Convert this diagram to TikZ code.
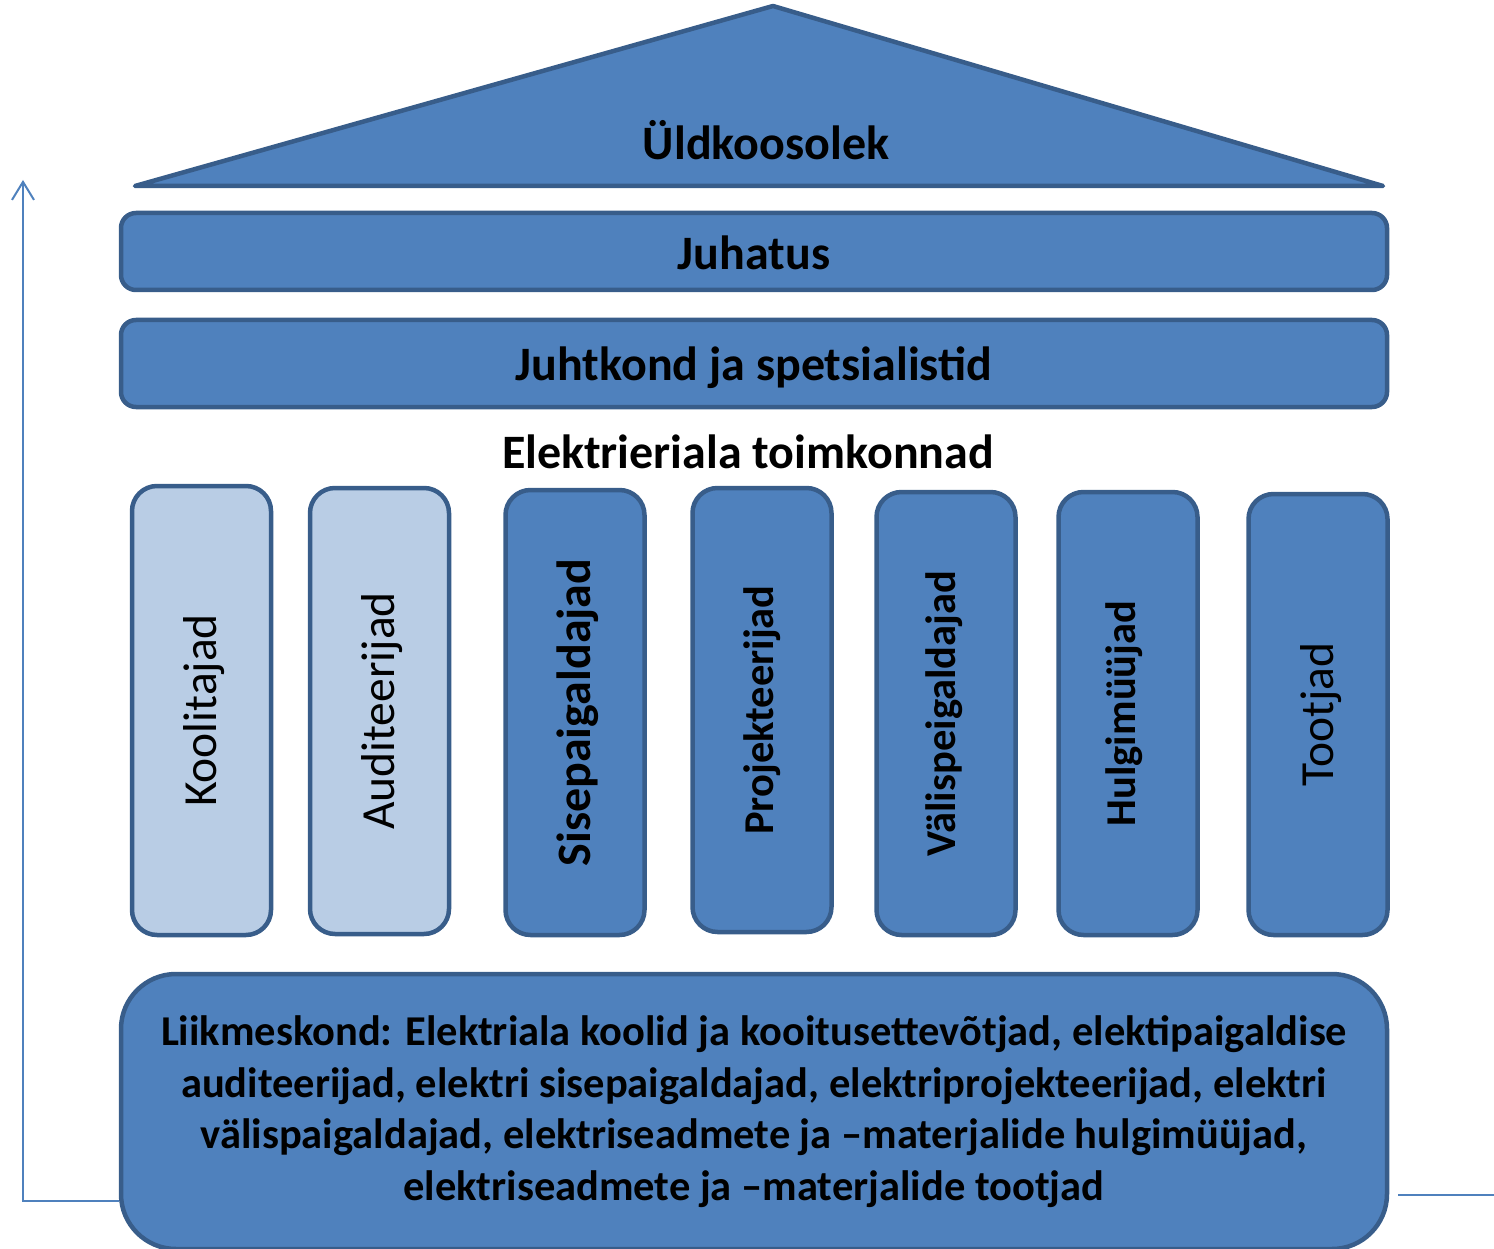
\documentclass[tikz,border=0pt]{standalone}
\usepackage{fontspec}
\setmainfont{Carlito}
\usetikzlibrary{arrows.meta}
\definecolor{mainfill}{HTML}{4F81BD}
\definecolor{mainedge}{HTML}{385D8A}
\definecolor{lightfill}{HTML}{B9CDE5}
\tikzset{
  band/.style={draw=mainedge, fill=mainfill, line width=4.5pt, rounded corners=15pt,
    minimum width=1266pt, inner sep=0pt, text=black, font=\fontsize{48}{58}\selectfont\bfseries},
  pillar/.style={draw=mainedge, fill=mainfill, line width=4.5pt, rounded corners=25pt,
    minimum width=139pt, inner sep=0pt, text=black},
  lightpillar/.style={pillar, fill=lightfill},
  ptext/.style={rotate=90, font=\fontsize{47.5}{56}\selectfont},
  btext/.style={rotate=90, font=\fontsize{48}{56}\selectfont\bfseries},
  stext/.style={rotate=90, font=\fontsize{42.5}{50}\selectfont\bfseries},
  flowline/.style={draw=mainfill, line width=2pt},
}
\begin{document}
\begin{tikzpicture}[x=1pt,y=-1pt]
\useasboundingbox (0,0) rectangle (1494,1249);
% roof
\draw[draw=mainedge, fill=mainfill, line width=4.5pt, line join=round]
  (135,186) -- (773,6) -- (1383,186) -- cycle;
\node[font=\fontsize{48}{58}\selectfont\bfseries] (roof) at (766,140) {Üldkoosolek};
% bands
\node[band, minimum height=77pt] (juhatus) at (754,251.5) {};
\node[font=\fontsize{48}{58}\selectfont\bfseries] at ([yshift=-1.5pt]juhatus.center) {Juhatus};
\node[band, minimum height=87pt] (juhtkond) at (754,363.5) {};
\node[font=\fontsize{48}{58}\selectfont\bfseries] at ([yshift=-4pt]juhtkond.center) {Juhtkond ja spetsialistid};
\node[font=\fontsize{48}{58}\selectfont\bfseries] (toimk) at (748,452) {Elektrieriala toimkonnad};
% pillars
\node[lightpillar, minimum height=449pt] (p1) at (201.5,710.5) {};
\node[ptext] at ([xshift=3pt]p1.center) {Koolitajad};
\node[lightpillar, minimum height=446pt] (p2) at (379.5,711) {};
\node[ptext] at ([xshift=3pt]p2.center) {Auditeerijad};
\node[pillar, minimum height=445pt] (p3) at (575,712.5) {};
\node[btext] at ([xshift=3pt]p3.center) {Sisepaigaldajad};
\node[pillar, minimum height=444pt] (p4) at (762,710) {};
\node[stext] at (p4) {Projekteerijad};
\node[pillar, minimum height=443pt] (p5) at (946,713.5) {};
\node[stext] at ([xshift=-2pt]p5.center) {Välispeigaldajad};
\node[pillar, minimum height=443pt] (p6) at (1128,713.5) {};
\node[stext] at ([xshift=-4pt]p6.center) {Hulgimüüjad};
\node[pillar, minimum height=441pt] (p7) at (1318,714.5) {};
\node[ptext] at ([xshift=3pt]p7.center) {Tootjad};
% members
\node[draw=mainedge, fill=mainfill, line width=4.5pt, rounded corners=55pt,
  minimum width=1266pt, minimum height=275pt, inner sep=0pt, align=center,
  font=\fontsize{42.5}{51.5}\selectfont\bfseries] (members) at (754,1111.5)
  {Liikmeskond: Elektriala koolid ja kooitusettevõtjad, elektipaigaldise\\
   auditeerijad, elektri sisepaigaldajad, elektriprojekteerijad, elektri\\
   välispaigaldajad, elektriseadmete ja –materjalide hulgimüüjad,\\
   elektriseadmete ja –materjalide tootjad};
% feedback arrow
\coordinate (arrowtip) at (23,180);
\coordinate (rightend) at (1494,1195);
\draw[flowline, -{Straight Barb[length=18pt,width=22pt,line width=2pt]}]
  (members.west |- 0,1201) -| (arrowtip);
\draw[flowline] (members.east |- rightend) ++(9,0) -- (rightend);
\end{tikzpicture}
\end{document}
